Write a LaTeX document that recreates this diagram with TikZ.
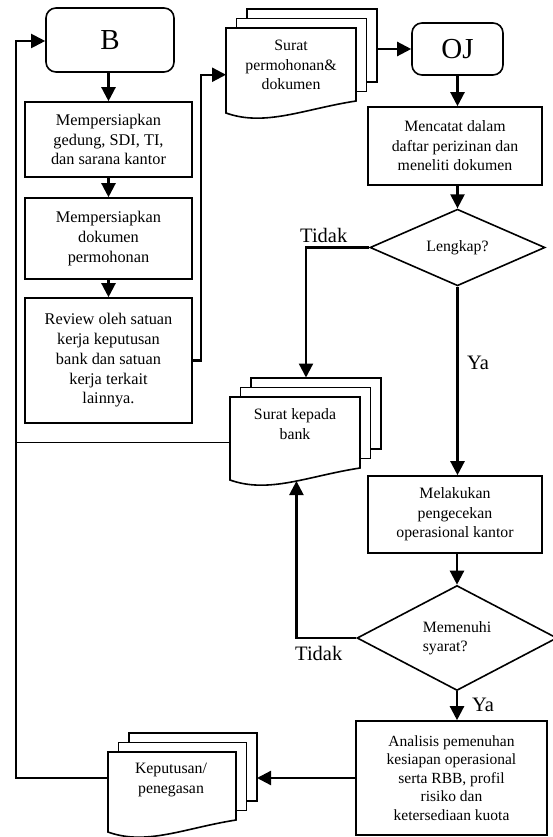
\documentclass[tikz,border=0pt]{standalone}
\usepackage{fontspec}
\setmainfont{Liberation Serif}
\usetikzlibrary{arrows.meta,shapes.geometric}
\newcommand\docstack[5]{%
  \foreach \k in {2,1}{%
    \draw[docline, fill=white] ({#2+10.5*\k},{#3-9.5*\k}) rectangle ({#4+10.5*\k},{#5-12-9.5*\k});
  }
  \draw[docline, fill=white] (#2,#3) -- (#4,#3) -- (#4,{#5-12})
     .. controls ({#2+0.6*(#4-#2)},{#5-4}) and ({#2+0.3*(#4-#2)},{#5+14}) .. (#2,#5) -- cycle;
  \coordinate (#1-w) at (#2,{#3+0.55*(#5-#3)});
  \coordinate (#1-nw) at (#2,#3);
  \coordinate (#1-r3) at ({#4+21},{#3-19});
  \coordinate (#1-t3) at ({#2+21},{#3-19});
  \coordinate (#1-wave) at ({#2+0.511*(#4-#2)},{#5+1});
}
\begin{document}
\begin{tikzpicture}[x=1pt,y=-1pt,
  box/.style={draw, line width=1.6pt, align=center, inner sep=0pt},
  lf/.style={font=\fontsize{16.3}{19.8}\selectfont},
  rf/.style={font=\fontsize{15.8}{19.5}\selectfont},
  af/.style={font=\fontsize{15.5}{18.5}\selectfont},
  big/.style={font=\fontsize{29}{31}\selectfont},
  lab/.style={font=\fontsize{20.5}{22}\selectfont, inner sep=0pt},
  dia/.style={draw, diamond, line width=1.6pt, inner sep=0pt, align=center},
  arr/.style={line width=2.3pt, -{Triangle[length=14pt,width=14pt]}},
  con/.style={line width=2pt},
  docline/.style={line width=1.6pt}
]
\fill[white] (0,0) rectangle (553,837);
\useasboundingbox (0,0) rectangle (553,837);

% left column
\node[box, rounded corners=10pt, minimum width=128pt, minimum height=64pt, big] (B) at (110,40) {B};
\node[box, lf, minimum width=167pt, minimum height=75pt] (b1) at (108.5,139.5) {Mempersiapkan\\gedung, SDI, TI,\\dan sarana kantor};
\node[box, lf, minimum width=167pt, minimum height=81pt] (b2) at (108.5,238.5) {Mempersiapkan\\dokumen\\permohonan};
\node[box, lf, minimum width=167pt, minimum height=125pt] (b3) at (108.5,360.5) {Review oleh satuan\\kerja keputusan\\bank dan satuan\\kerja terkait\\lainnya.};

% documents
\docstack{pm}{226}{28}{356}{113}
\node[rf, align=center, inner sep=0pt] (pmt) at (291,65) {Surat\\permohonan\&\\dokumen};
\docstack{kb}{230}{397}{360}{480}
\node[rf, align=center, inner sep=0pt] (kbt) at (295,424) {Surat kepada\\bank};
\docstack{kp}{108}{752}{236}{832}
\node[rf, align=center, inner sep=0pt] (kpt) at (171,780) {Keputusan/\\penegasan};

% right column
\node[box, rounded corners=10pt, minimum width=91pt, minimum height=52pt, big] (OJ) at (457.5,49) {OJ};
\node[box, rf, minimum width=174pt, minimum height=78pt] (mc) at (455,146) {Mencatat dalam\\daftar perizinan dan\\meneliti dokumen};
\node[dia, rf, minimum width=175pt, minimum height=63pt] (len) at (457.5,247.5) {Lengkap?};
\node[box, rf, minimum width=174pt, minimum height=77pt] (mel) at (455,514.5) {Melakukan\\pengecekan\\operasional kantor};
\node[dia, rf, align=left, minimum width=200pt, minimum height=105pt] (mem) at (457,638) {Memenuhi\\syarat?};
\node[box, af, minimum width=191pt, minimum height=114pt] (ana) at (451.5,778) {Analisis pemenuhan\\kesiapan operasional\\serta RBB, profil\\risiko dan\\ketersediaan kuota};

% labels
\node[lab, anchor=base west] (t1) at (300,242) {Tidak};
\node[lab, anchor=base west] (y1) at (467,369) {Ya};
\node[lab, anchor=base west] (t2) at (295,660) {Tidak};
\node[lab, anchor=base west] (y2) at (472,711) {Ya};

% helper coordinates
\coordinate (lft) at (16,41);
\coordinate (kbin) at (306,377.5);

% connectors
\draw[arr] (B.south -| b1.north) -- (b1.north);
\draw[arr] (b1.south) -- (b2.north);
\draw[arr] (b2.south) -- (b3.north);
\draw[arr] (b3.east) -- ++(8,0) |- (pm-w);
\draw[arr] (pm-r3 |- OJ.west) -- (OJ.west);
\draw[arr] (OJ.south) -- (OJ.south |- mc.north);
\draw[arr] (mc.south -| len.north) -- (len.north);
\draw[arr] (len.west) -| (kbin);
\draw[arr] (len.south) -- (len.south |- mel.north);
\draw[arr] (mel.south -| mem.north) -- (mem.north);
\draw[arr] (mem.west) -| (kb-wave);
\draw[arr] (mem.south) -- (mem.south |- ana.north);
\draw[arr] (ana.west) -- (ana.west -| kp-r3);
\draw[con, -{Triangle[length=14pt,width=14pt]}] (kp-nw |- ana.west) -| (lft) -- (B.west |- lft);
\draw[line width=1.5pt] (kb-w) -- (kb-w -| lft);
\end{tikzpicture}
\end{document}
